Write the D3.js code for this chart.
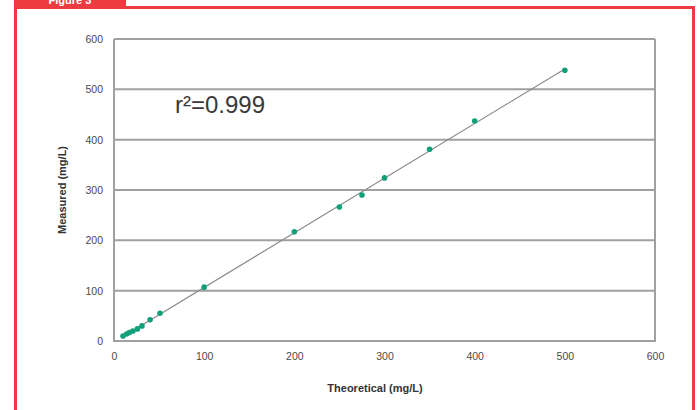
<!DOCTYPE html>
<html>
<head>
<meta charset="utf-8">
<script src="https://cdn.jsdelivr.net/npm/d3@7"></script>
<style>
  body { margin: 0; background: #fff; }
  svg { display: block; font-family: "Liberation Sans", Arial, sans-serif; }
  .grid line { stroke: #a0a0a0; stroke-width: 2; }
  .tick text { fill: #4a4a4a; font-size: 10.5px; }
</style>
</head>
<body>
<script>
// data
var theoretical = [10, 14, 17, 21, 26, 31, 40, 51, 100, 200, 250, 275, 300, 350, 400, 500];
var measured    = [10, 14, 17, 20, 24, 30, 42, 55, 107, 217, 266, 290, 324, 381, 437, 538];
var xTicks = [0, 100, 200, 300, 400, 500, 600];
var yTicks = [0, 100, 200, 300, 400, 500, 600];
var r2Label = "r²=0.999";

var width = 698,
    height = 410,
    red = "#ee3b42";

var svg = d3.select("body").append("svg")
  .attr("width", width)
  .attr("height", height);

// red frame + tab (the tab title is cropped in the source too)
svg.append("rect")
  .attr("x", 14).attr("y", 0)
  .attr("width", 112).attr("height", 7)
  .attr("fill", red);
svg.append("text")
  .attr("x", 70).attr("y", 4)
  .attr("text-anchor", "middle")
  .attr("fill", "#fff")
  .style("font-size", "11px")
  .style("font-weight", "bold")
  .text("Figure 3");
svg.append("path")
  .attr("d", "M15.5,420 V7.5 H693.5 V420")
  .attr("fill", "none")
  .attr("stroke", red)
  .attr("stroke-width", 3);

var x = d3.scaleLinear().domain([0, 600]).range([114, 655]);
var y = d3.scaleLinear().domain([0, 600]).range([341, 39]);

// horizontal gridlines
svg.append("g").attr("class", "grid")
  .selectAll("line")
  .data(yTicks.filter(function(d) { return d > 0; }))
  .enter().append("line")
  .attr("x1", x(0)).attr("x2", x(600))
  .attr("y1", function(d) { return y(d); })
  .attr("y2", function(d) { return y(d); });

// plot frame (left, bottom, right)
svg.append("path")
  .attr("d", "M" + x(0) + "," + y(600) + " V" + y(0) + " H" + x(600) + " V" + y(600))
  .attr("fill", "none")
  .attr("stroke", "#a0a0a0")
  .attr("stroke-width", 2);

// axes (labels only)
svg.append("g")
  .attr("transform", "translate(0," + (y(0) + 6) + ")")
  .call(d3.axisBottom(x).tickValues(xTicks).tickSize(0).tickPadding(6));
svg.append("g")
  .attr("transform", "translate(" + (x(0) - 6) + ",0)")
  .call(d3.axisLeft(y).tickValues(yTicks).tickSize(0).tickPadding(5));
svg.selectAll(".domain").remove();

// regression line
var mx = d3.mean(theoretical),
    my = d3.mean(measured),
    sxy = d3.sum(theoretical, function(d, i) { return (d - mx) * (measured[i] - my); }),
    sxx = d3.sum(theoretical, function(d) { return (d - mx) * (d - mx); }),
    slope = sxy / sxx,
    icpt = my - slope * mx;
var x0 = 8, x1 = d3.max(theoretical);
svg.append("line")
  .attr("x1", x(x0)).attr("y1", y(icpt + slope * x0))
  .attr("x2", x(x1)).attr("y2", y(icpt + slope * x1))
  .attr("stroke", "#8a8a8a")
  .attr("stroke-width", 1.2);

// points
svg.selectAll("circle.pt")
  .data(theoretical)
  .enter().append("circle")
  .attr("class", "pt")
  .attr("cx", function(d) { return x(d); })
  .attr("cy", function(d, i) { return y(measured[i]); })
  .attr("r", 2.8)
  .attr("fill", "#12a07a");

// r² label
svg.append("text")
  .attr("x", 175).attr("y", 113)
  .attr("fill", "#3a3a3a")
  .style("font-size", "24px")
  .text(r2Label);

// axis titles
svg.append("text")
  .attr("x", 375).attr("y", 392)
  .attr("text-anchor", "middle")
  .attr("fill", "#333")
  .style("font-size", "11px")
  .style("font-weight", "bold")
  .text("Theoretical (mg/L)");
svg.append("text")
  .attr("transform", "translate(66,190) rotate(-90)")
  .attr("text-anchor", "middle")
  .attr("fill", "#333")
  .style("font-size", "11px")
  .style("font-weight", "bold")
  .text("Measured (mg/L)");
</script>
</body>
</html>
